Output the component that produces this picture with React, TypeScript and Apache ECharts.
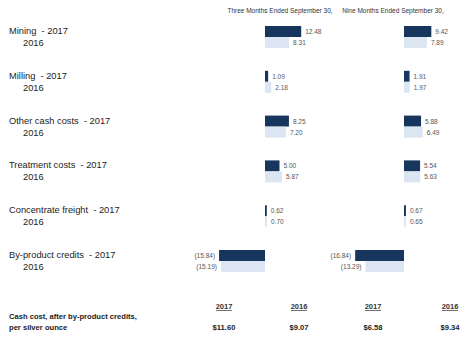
import React, { useEffect, useRef } from "react";
import * as echarts from "echarts";

const categories = ["Mining", "Milling", "Other cash costs", "Treatment costs", "Concentrate freight", "By-product credits"];
const threeMonths2017 = [12.48, 1.09, 8.25, 5.0, 0.62, -15.84];
const threeMonths2016 = [8.31, 2.18, 7.2, 5.87, 0.7, -15.19];
const nineMonths2017 = [9.42, 1.91, 5.88, 5.54, 0.67, -16.84];
const nineMonths2016 = [7.89, 1.97, 6.49, 5.63, 0.65, -13.29];
const panelTitles = ["Three Months Ended September 30,", "Nine Months Ended September 30,"];
const summaryYears = ["2017", "2016", "2017", "2016"];
const summaryCashCost = [11.6, 9.07, 6.58, 9.34];
const summaryLabel = ["Cash cost, after by-product credits,", "per silver ounce"];

const FONT = "'Liberation Sans', Arial, sans-serif";
const DARK = "#17365D";
const LIGHT = "#DCE6F2";

const fmt = (v: number) => (v < 0 ? `(${Math.abs(v).toFixed(2)})` : v.toFixed(2));

function makeData(values: number[]) {
  return values.map((v) => ({
    value: v,
    label: { position: v < 0 ? "left" : "right" },
  }));
}

export default function App() {
  const ref = useRef<HTMLDivElement>(null);
  useEffect(() => {
    if (!ref.current) return;
    const chart = echarts.init(ref.current, null, { renderer: "svg" });
    const gridTop = 14.6;
    const gridHeight = 268.8;
    const grids = [
      { left: 207, top: gridTop, width: 116, height: gridHeight },
      { left: 346, top: gridTop, width: 116, height: gridHeight },
    ];
    const barLabel = {
      show: true,
      fontSize: 6.5,
      color: "#555",
      fontFamily: FONT,
      distance: 4,
      formatter: (p: any) => fmt(p.value),
    };
    const mkSeries = (data: number[], idx: number, color: string) => ({
      type: "bar",
      xAxisIndex: idx,
      yAxisIndex: idx,
      barWidth: 11,
      barGap: "0%",
      itemStyle: { color },
      label: barLabel,
      data: makeData(data),
    });
    const colCenters = [224, 299, 373, 450];
    const graphic: any[] = [];
    panelTitles.forEach((t, i) => {
      graphic.push({
        type: "text",
        x: [280, 393][i],
        y: 10,
        style: { text: t, fontSize: 6.5, fill: "#333", fontFamily: FONT, align: "center", verticalAlign: "middle" },
      });
    });
    summaryYears.forEach((y, i) => {
      graphic.push({
        type: "text",
        x: colCenters[i],
        y: 306,
        style: { text: y, fontSize: 7.5, fontWeight: "bold", fill: "#333", fontFamily: FONT, align: "center", verticalAlign: "middle" },
      });
      graphic.push({
        type: "line",
        shape: { x1: colCenters[i] - 8, y1: 310.5, x2: colCenters[i] + 8, y2: 310.5 },
        style: { stroke: "#333", lineWidth: 0.7 },
      });
      graphic.push({
        type: "text",
        x: colCenters[i],
        y: 327,
        style: { text: "$" + summaryCashCost[i].toFixed(2), fontSize: 7.6, fontWeight: "bold", fill: "#222", fontFamily: FONT, align: "center", verticalAlign: "middle" },
      });
    });
    summaryLabel.forEach((t, i) => {
      graphic.push({
        type: "text",
        x: 9,
        y: [316.5, 327][i],
        style: { text: t, fontSize: 7.6, fontWeight: "bold", fill: "#222", fontFamily: FONT, align: "left", verticalAlign: "middle" },
      });
    });
    chart.setOption({
      animation: false,
      grid: grids,
      xAxis: [0, 1].map((i) => ({ type: "value", gridIndex: i, min: -20, max: 20, show: false })),
      yAxis: [0, 1].map((i) => ({
        type: "category",
        gridIndex: i,
        inverse: true,
        data: categories,
        axisLine: { show: false },
        axisTick: { show: false },
        splitLine: { show: false },
        axisLabel: {
          show: i === 0,
          align: "left",
          margin: 198,
          formatter: (v: string) => `{a|${v}  - 2017}\n{b|2016}`,
          rich: {
            a: { fontSize: 9.3, fontFamily: FONT, color: "#222", lineHeight: 12 },
            b: { fontSize: 9.3, fontFamily: FONT, color: "#222", lineHeight: 12, padding: [0, 0, 0, 14] },
          },
        },
      })),
      series: [
        mkSeries(threeMonths2017, 0, DARK),
        mkSeries(threeMonths2016, 0, LIGHT),
        mkSeries(nineMonths2017, 1, DARK),
        mkSeries(nineMonths2016, 1, LIGHT),
      ],
      graphic,
    });
    return () => chart.dispose();
  }, []);
  return <div ref={ref} style={{ width: 468, height: 338, position: "absolute", left: 0, top: 0, background: "#fff" }} />;
}
